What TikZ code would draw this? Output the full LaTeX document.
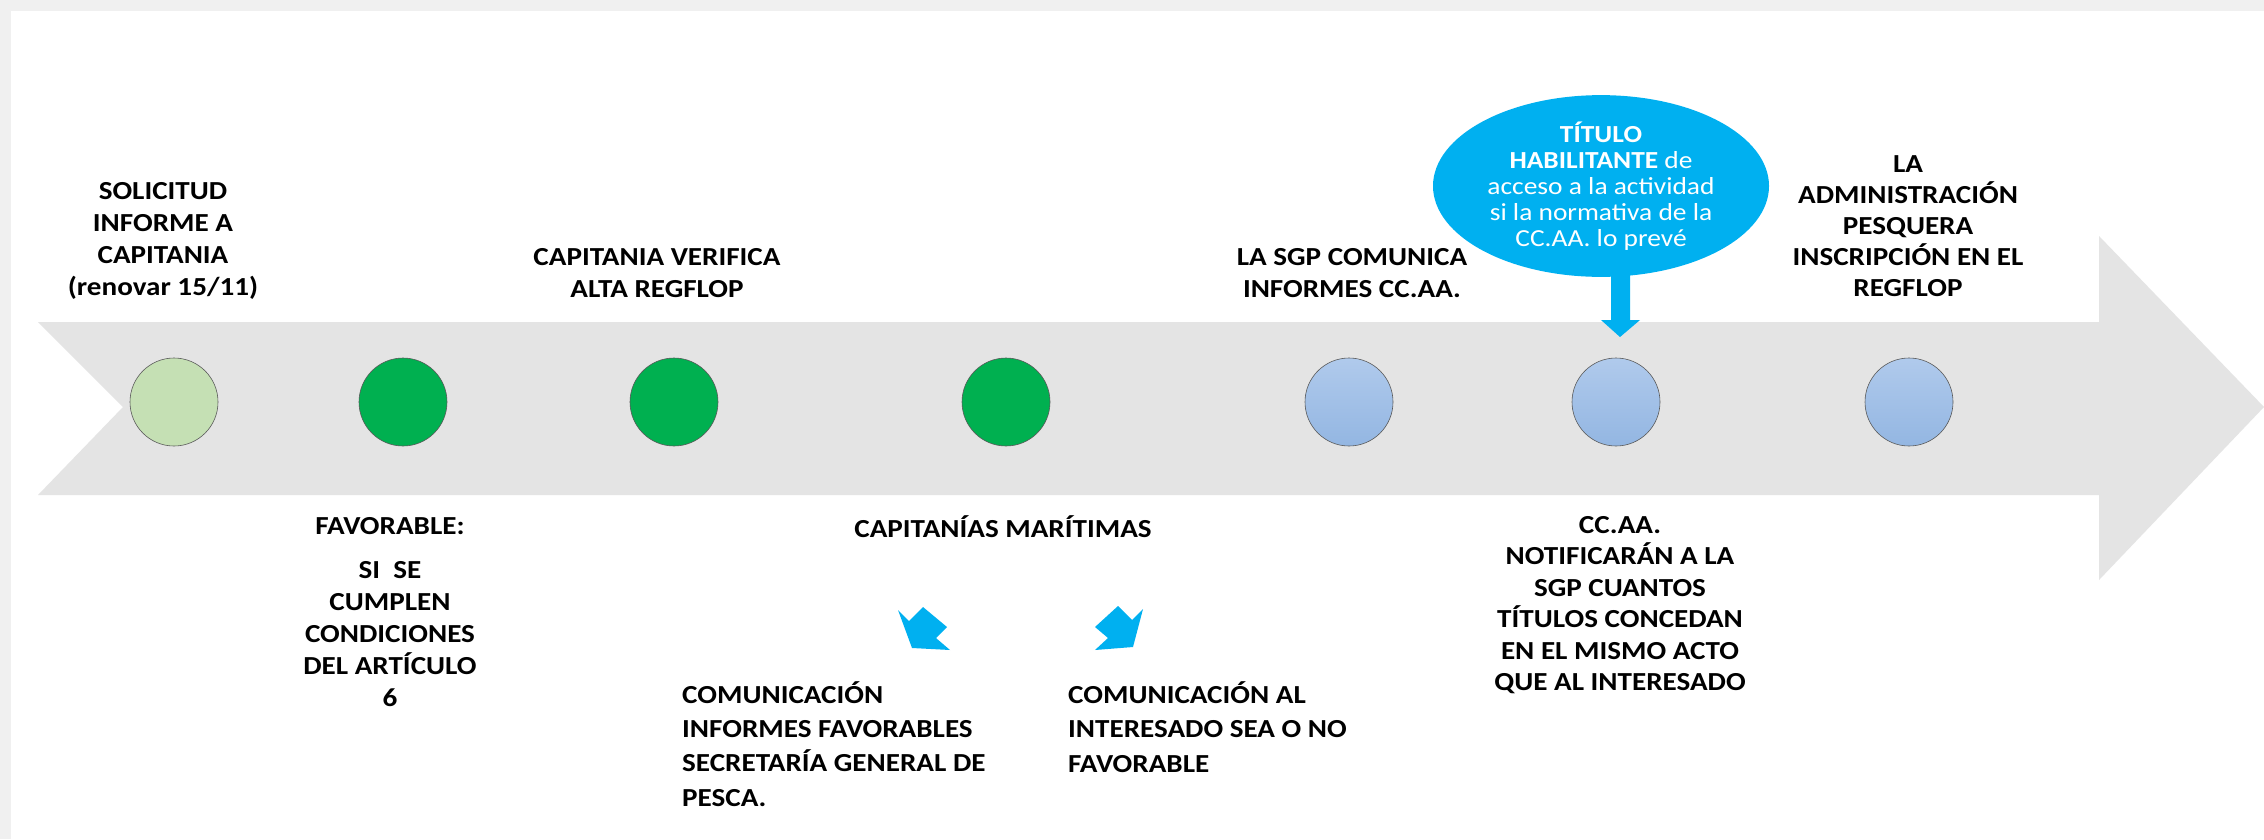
\documentclass[tikz,border=0pt]{standalone}
\usepackage{fontspec}
\setmainfont{Carlito}[FakeStretch=1.12]
\usetikzlibrary{shapes.geometric}
\definecolor{frameGray}{HTML}{F0F0F0}
\definecolor{bandGray}{HTML}{E4E4E4}
\definecolor{doneGreen}{HTML}{00B050}
\definecolor{paleGreen}{HTML}{C5E0B4}
\definecolor{skyBlue}{HTML}{00B0F0}
\definecolor{blueTop}{HTML}{B0CAEC}
\definecolor{blueBot}{HTML}{93B6E2}
\tikzstyle{stageDot}=[draw=black!65,circle,minimum size=88pt,inner sep=0pt,line width=0.6pt]
\tikzstyle{pending}=[stageDot,top color=blueTop,bottom color=blueBot]
\tikzstyle{caption}=[font=\bfseries\fontsize{26}{32}\selectfont,align=center,inner sep=0pt]
\tikzstyle{blockArrow}=[fill=skyBlue,draw=none]

\begin{document}
\begin{tikzpicture}[x=1pt,y=-1pt]

    \useasboundingbox (0,0) rectangle (2264,839);
    \fill[frameGray] (0,0) rectangle (2264,839);
    \fill[white] (11,11) rectangle (2264,839);

    % timeline band
    \fill[bandGray] (38,322) -- (2099,322) -- (2099,236) -- (2264,407) -- (2099,580)
        -- (2099,495) -- (38,495) -- (123,407) -- cycle;

    \node[stageDot,fill=paleGreen] (s1) at (174,402) {};
    \node[stageDot,fill=doneGreen] (s2) at (403,402) {};
    \node[stageDot,fill=doneGreen] (s3) at (674,402) {};
    \node[stageDot,fill=doneGreen] (s4) at (1006,402) {};
    \node[pending] (s5) at (1349,402) {};
    \node[pending] (s6) at (1616,402) {};
    \node[pending] (s7) at (1909,402) {};

    % texts above the band
    \node[caption] (solicitud) at (163,241) {SOLICITUD\\INFORME A\\CAPITANIA\\(renovar 15/11)};
    \node[caption] (verifica) at (657,273) {CAPITANIA VERIFICA\\ALTA REGFLOP};
    \node[caption] (comunica) at (1352,273) {LA SGP COMUNICA\\INFORMES CC.AA.};
    \node[caption,font=\bfseries\fontsize{26}{31}\selectfont] (inscripcion) at (1908,226)
        {LA\\ADMINISTRACIÓN\\PESQUERA\\INSCRIPCIÓN EN EL\\REGFLOP};

    \node[ellipse,fill=skyBlue,minimum width=336pt,minimum height=148pt,inner sep=0pt,
        text=white,align=center,font=\fontsize{24.5}{26}\selectfont] (titulo) at (1601,186)
        {\textbf{TÍTULO}\\\textbf{HABILITANTE} de\\acceso a la actividad\\si la normativa de la\\CC.AA. lo prevé};

    \fill[blockArrow] (1611,274) -- (1630,274) -- (1630,320) -- (1640,320) -- (1620,337)
        -- (1601,320) -- (1611,320) -- cycle;

    % texts below the band
    \node[caption] (favorable) at (390,612)
        {FAVORABLE:\\[12pt]SI~~SE\\CUMPLEN\\CONDICIONES\\DEL ARTÍCULO\\6};
    \node[caption] (capitanias) at (1003,527) {CAPITANÍAS MARÍTIMAS};
    \node[caption,align=left,anchor=west,font=\bfseries\fontsize{26}{34.3}\selectfont] (informes) at (682,744)
        {COMUNICACIÓN\\INFORMES FAVORABLES\\SECRETARÍA GENERAL DE\\PESCA.};
    \node[caption,align=left,anchor=west,font=\bfseries\fontsize{26}{34.3}\selectfont] (interesado) at (1068,727)
        {COMUNICACIÓN AL\\INTERESADO SEA O NO\\FAVORABLE};
    \node[caption,font=\bfseries\fontsize{26}{31.4}\selectfont] (notifican) at (1620,605)
        {CC.AA.\\NOTIFICARÁN A LA\\SGP CUANTOS\\TÍTULOS CONCEDAN\\EN EL MISMO ACTO\\QUE AL INTERESADO};

    \fill[blockArrow] (898,610) -- (909,621) -- (923,607) -- (947,627) -- (936,638)
        -- (950,650) -- (912,648) -- cycle;
    \fill[blockArrow] (1095,627) -- (1118,606) -- (1132,620) -- (1143,609) -- (1133,647)
        -- (1095,650) -- (1108,638) -- cycle;

\end{tikzpicture}
\end{document}
